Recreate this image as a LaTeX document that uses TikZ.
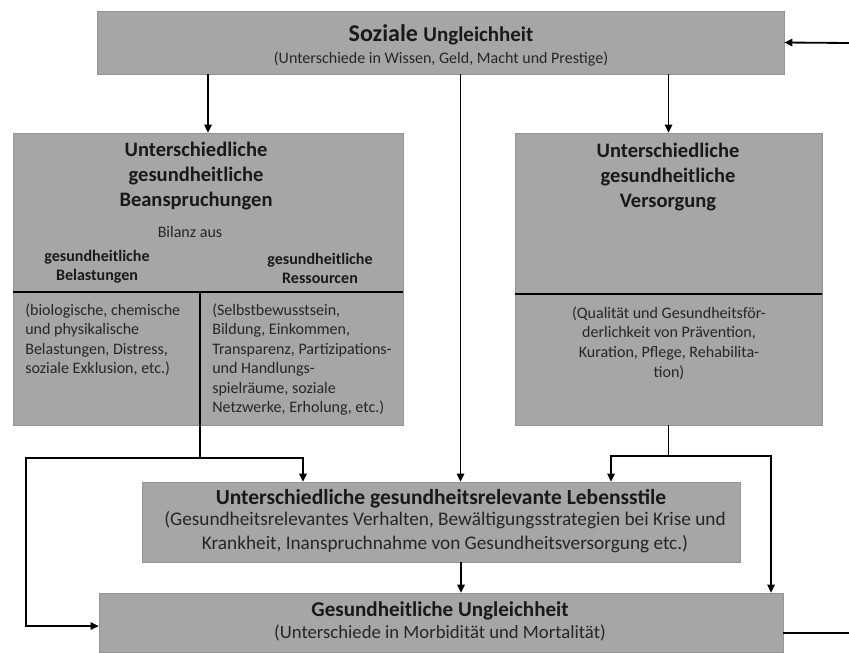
\documentclass[tikz,border=0pt]{standalone}
\usepackage{fontspec}
\setmainfont{Carlito}
\usetikzlibrary{arrows.meta}

\begin{document}
\begin{tikzpicture}[
  x=0.25mm, y=-0.25mm,
  box/.style={draw=black!42,fill=black!35,inner sep=0pt},
  head/.style={font=\fontsize{14.6}{17.8}\selectfont\bfseries,align=center,text=black!90,inner sep=0pt},
  sub/.style={font=\fontsize{11.4}{13.5}\selectfont\bfseries,align=center,text=black!90,inner sep=0pt},
  body/.style={font=\fontsize{11.4}{13.9}\selectfont,text=black!85,inner sep=0pt},
  line/.style={line width=1.3pt},
  sep/.style={line width=1.8pt},
  arr/.style={line,-{Triangle[length=2mm,width=1.8mm]}}
  ]
  \useasboundingbox (0,0) rectangle (849,652);

  % boxes
  \node[box,minimum width=171.75mm,minimum height=15.75mm] (soz)  at (440.5,42.5) {};
  \node[box,minimum width=97.5mm,minimum height=73mm]      (bean) at (208,279)    {};
  \node[box,minimum width=76.75mm,minimum height=73mm]     (vers) at (668.5,279)  {};
  \node[box,minimum width=149.5mm,minimum height=20mm]     (stil) at (441,522)    {};
  \node[box,minimum width=171mm,minimum height=14.75mm]    (ungl) at (441,622.5)  {};

  % texts
  \node[font=\fontsize{17.1}{20}\selectfont\bfseries,text=black!90,inner sep=0pt] (soz-t) at (441,35)
    {Soziale {\fontsize{14.9}{18}\selectfont Ungleichheit}};
  \node[body] (soz-s) at (441,59) {(Unterschiede in Wissen, Geld, Macht und Prestige)};

  \node[head] (bean-t) at (196,176) {Unterschiedliche\\gesundheitliche\\Beanspruchungen};
  \node[body] (bilanz) at (190,232) {Bilanz aus};
  \node[sub] (bel-t) at (97,267)  {gesundheitliche\\Belastungen};
  \node[sub] (res-t) at (320,268) {gesundheitliche\\Ressourcen};
  \node[body,anchor=north west,align=left] (bel-s) at (25,303)
    {(biologische, chemische\\und physikalische\\Belastungen, Distress,\\soziale Exklusion, etc.)};
  \node[body,anchor=north west,align=left] (res-s) at (212,303)
    {(Selbstbewusstsein,\\Bildung, Einkommen,\\Transparenz, Partizipations-\\und Handlungs-\\spielräume, soziale\\Netzwerke, Erholung, etc.)};

  \node[head] (vers-t) at (668,177) {Unterschiedliche\\gesundheitliche\\Versorgung};
  \node[body,align=center] (vers-s) at (669,343)
    {(Qualität und Gesundheitsför-\\derlichkeit von Prävention,\\Kuration, Pflege, Rehabilita-\\tion)};

  \node[head,font=\fontsize{15.3}{18}\selectfont\bfseries] (stil-t) at (441,499) {Unterschiedliche gesundheitsrelevante Lebensstile};
  \node[body,font=\fontsize{13.7}{16.6}\selectfont,align=center] (stil-s) at (445,532)
    {(Gesundheitsrelevantes Verhalten, Bewältigungsstrategien bei Krise und\\Krankheit, Inanspruchnahme von Gesundheitsversorgung etc.)};

  \node[head,font=\fontsize{15}{18}\selectfont\bfseries] (ungl-t) at (440,611) {Gesundheitliche Ungleichheit};
  \node[body,font=\fontsize{13.3}{15}\selectfont] (ungl-s) at (440,633) {(Unterschiede in Morbidität und Mortalität)};

  % separators
  \draw[sep] (bean.west |- 0,292) -- (bean.east |- 0,292);
  \draw[sep] (200,292) -- (bean.south -| 200,0);
  \draw[sep] (vers.west |- 0,294) -- (vers.east |- 0,294);

  % connectors
  \coordinate (lj) at (200,458);
  \coordinate (ll) at (26,458);
  \coordinate (rt) at (849,43);
  \coordinate (rb) at (849,633);

  \draw[arr] (soz.south -| bean.north) -- (bean.north);
  \draw[arr] ([xshift=5mm]soz.south) -- ([xshift=5mm]soz.south |- stil.north);
  \draw[arr] (soz.south -| vers.north) -- (vers.north);

  \draw[line] (bean.south -| 200,0) -- (lj);
  \draw[arr] (lj) -| ([xshift=-34.5mm]stil.north);
  \draw[arr] (lj) -- (ll) |- ([yshift=-0.9mm]ungl.west);

  \draw[line] (vers.south) -- ++(0,31) coordinate (rj);
  \draw[arr] (rj) -| ([xshift=42.5mm]stil.north);
  \draw[arr] (rj) -| ([xshift=82.5mm]ungl.north);

  \draw[arr] ([xshift=5mm]stil.south) -- ([xshift=5mm]stil.south |- ungl.north);

  \draw[line] (rb -| ungl.east) -- (rb);
  \draw[arr] (rt) -- (soz.east);
\end{tikzpicture}
\end{document}
